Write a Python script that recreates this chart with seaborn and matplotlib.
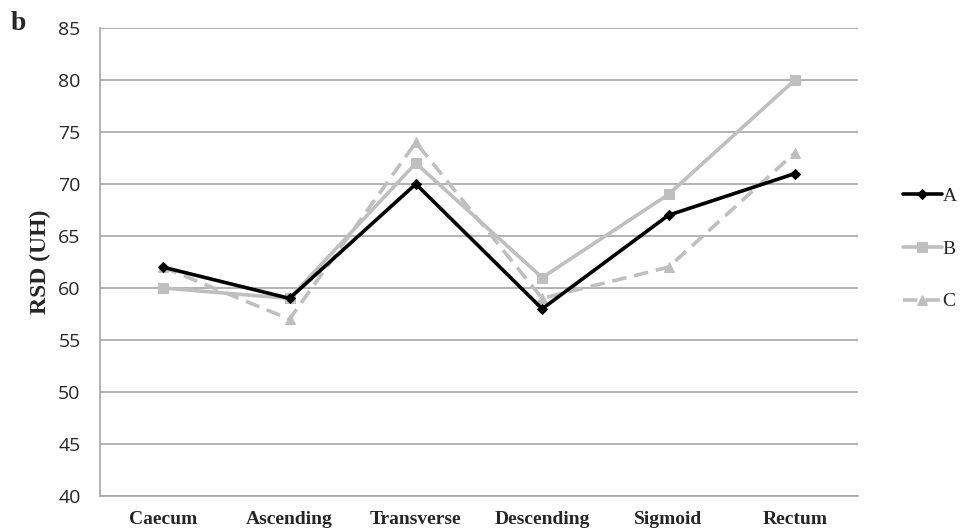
import matplotlib
matplotlib.use("Agg")
import matplotlib.pyplot as plt
import seaborn as sns
import pandas as pd
from matplotlib.ticker import FixedLocator, NullFormatter

segments = ["Caecum", "Ascending", "Transverse", "Descending", "Sigmoid", "Rectum"]
series_a = [62, 59, 70, 58, 67, 71]
series_b = [60, 59, 72, 61, 69, 80]
series_c = [62, 57, 74, 59, 62, 73]
series_names = ["A", "B", "C"]
y_ticks = [40, 45, 50, 55, 60, 65, 70, 75, 80, 85]

rows = []
for name, vals in zip(series_names, [series_a, series_b, series_c]):
    for i, (seg, v) in enumerate(zip(segments, vals)):
        rows.append({"pos": i, "segment": seg, "RSD": v, "group": name})
df = pd.DataFrame(rows)

sns.set_style("white")
plt.rcParams["font.family"] = ["Open Sans", "DejaVu Sans"]

fig = plt.figure(figsize=(9.68, 5.3), dpi=100)
ax = fig.add_axes([100 / 968, 1 - 496 / 530, 758 / 968, 468 / 530])

grid_col = "#a6a6a6"
palette = {"A": "#000000", "B": "#bfbfbf", "C": "#bfbfbf"}
markers = {"A": "D", "B": "s", "C": "^"}
sizes = {"A": 5, "B": 7, "C": 7}

for name in series_names:
    sub = df[df["group"] == name]
    sns.lineplot(data=sub, x="pos", y="RSD", ax=ax, color=palette[name],
                 marker=markers[name], markersize=sizes[name],
                 markeredgecolor=palette[name], linewidth=2.6,
                 dashes=False, label=name, zorder=3 if name == "A" else 2,
                 linestyle="--" if name == "C" else "-")

for line in ax.get_lines():
    if line.get_label() == "C":
        line.set_dashes((4, 2.2))

ax.set_xlim(-0.5, 5.5)
ax.set_ylim(40, 85)
ax.set_yticks(y_ticks)
ax.yaxis.grid(True, color=grid_col, linewidth=1.2)
ax.set_axisbelow(True)

ax.set_xticks(range(len(segments)))
ax.set_xticklabels(segments, fontfamily="Liberation Serif", fontweight="bold", fontsize=14)
ax.xaxis.set_minor_locator(FixedLocator([i - 0.5 for i in range(len(segments) + 1)]))
ax.xaxis.set_minor_formatter(NullFormatter())
ax.tick_params(axis="x", which="major", length=0, pad=11)
ax.tick_params(axis="x", which="minor", length=5, color=grid_col, width=1.2, direction="out")
ax.tick_params(axis="y", length=6, color=grid_col, width=1.2, direction="out", labelsize=14, pad=8)

for side in ["top", "right"]:
    ax.spines[side].set_visible(False)
for side in ["left", "bottom"]:
    ax.spines[side].set_color(grid_col)
    ax.spines[side].set_linewidth(1.2)

ax.set_xlabel("")
ax.set_ylabel("RSD (UH)", fontfamily="Liberation Serif", fontweight="bold", fontsize=17)
ax.yaxis.set_label_coords(-0.065, 0.5)

leg = ax.legend(loc="center left", bbox_to_anchor=(889 / 968, 1 - 249 / 530),
                bbox_transform=fig.transFigure, frameon=False, borderpad=0.2,
                prop={"family": "Liberation Serif", "size": 14},
                handlelength=2.0, handletextpad=0.05, labelspacing=1.8)

fig.text(11 / 968, 1 - 23 / 530, "b", fontfamily="Liberation Serif", fontweight="bold",
         fontsize=20, va="center", ha="left")

fig.savefig("out.png", dpi=100)
